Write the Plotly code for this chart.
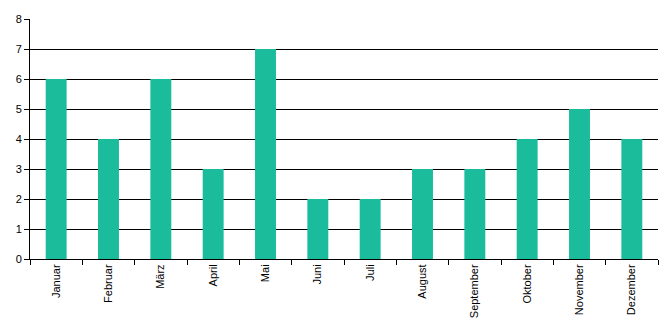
import plotly.graph_objects as go

months = ["Januar", "Februar", "März", "April", "Mai", "Juni", "Juli",
          "August", "September", "Oktober", "November", "Dezember"]
values = [6, 4, 6, 3, 7, 2, 2, 3, 3, 4, 5, 4]
y_ticks = [0, 1, 2, 3, 4, 5, 6, 7, 8]

fig = go.Figure(go.Bar(x=months, y=values, marker_color="#1abc9c",
                       marker_line_width=0, width=0.4))

fig.update_layout(
    width=670, height=330,
    margin=dict(l=30, r=12, t=19, b=71),
    paper_bgcolor="white", plot_bgcolor="white",
    font=dict(family="Liberation Sans, Arial, sans-serif", size=11, color="black"),
    showlegend=False,
    bargap=0.6,
)
fig.update_xaxes(
    tickangle=-90, showline=True, linecolor="black", linewidth=1,
    ticks="outside", tickson="boundaries", ticklen=5, tickcolor="black",
    showgrid=False, range=[-0.5, 11.5],
)
fig.update_yaxes(
    range=[0, 8], tickvals=y_ticks, showline=True, linecolor="black", linewidth=1,
    ticks="outside", ticklen=5, tickcolor="black",
    showgrid=True, gridcolor="black", gridwidth=1, zeroline=False,
)
fig.write_html("out.html")
